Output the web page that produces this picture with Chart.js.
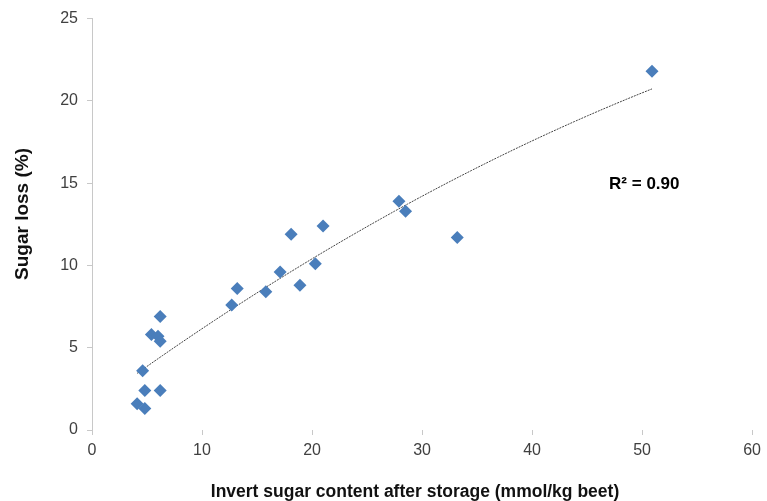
<!DOCTYPE html>
<html>
<head>
<meta charset="utf-8">
<script src="https://cdn.jsdelivr.net/npm/chart.js@4.4.1/dist/chart.umd.min.js"></script>
<style>
  html, body { margin: 0; padding: 0; background: #fff; }
  #wrap { width: 767px; height: 501px; }
</style>
</head>
<body>
<div id="wrap"><canvas id="scatter-chart" width="767" height="501"></canvas></div>
<script>
// invert sugar (mmol/kg beet) vs sugar loss (%)
const invertSugar = [50.9, 27.9, 28.5, 33.2, 21.0, 18.1, 20.3, 17.1, 18.9, 15.8, 13.2, 12.7, 6.2, 5.4, 6.0, 6.2, 4.6, 4.8, 6.2, 4.1, 4.8];
const sugarLoss = [21.8, 13.9, 13.3, 11.7, 12.4, 11.9, 10.1, 9.6, 8.8, 8.4, 8.6, 7.6, 6.9, 5.8, 5.7, 5.4, 3.6, 2.4, 2.4, 1.6, 1.3];
const xTicks = [0, 10, 20, 30, 40, 50, 60];
const yTicks = [0, 5, 10, 15, 20, 25];
const xTitle = 'Invert sugar content after storage (mmol/kg beet)';
const yTitle = 'Sugar loss (%)';
const r2Label = 'R² = 0.90';

const FONT = "'Liberation Sans', Arial, sans-serif";

// 2nd order polynomial trendline (least squares), like Excel
function polyFit(xs, ys) {
    const n = xs.length;
    let s1 = 0, s2 = 0, s3 = 0, s4 = 0, t0 = 0, t1 = 0, t2 = 0;
    for (let i = 0; i < n; i++) {
        const x = xs[i], y = ys[i];
        s1 += x; s2 += x * x; s3 += x * x * x; s4 += x * x * x * x;
        t0 += y; t1 += x * y; t2 += x * x * y;
    }
    // solve 3x3 normal equations (Cramer)
    const m = [[n, s1, s2], [s1, s2, s3], [s2, s3, s4]];
    const r = [t0, t1, t2];
    const det = a => a[0][0] * (a[1][1] * a[2][2] - a[1][2] * a[2][1])
        - a[0][1] * (a[1][0] * a[2][2] - a[1][2] * a[2][0])
        + a[0][2] * (a[1][0] * a[2][1] - a[1][1] * a[2][0]);
    const d = det(m);
    const col = k => m.map((row, i) => row.map((v, j) => (j === k ? r[i] : v)));
    return [det(col(0)) / d, det(col(1)) / d, det(col(2)) / d];
}

const coef = polyFit(invertSugar, sugarLoss);
const xMin = Math.min(...invertSugar);
const xMax = Math.max(...invertSugar);
const trendPoints = [];
for (let i = 0; i <= 40; i++) {
    const x = xMin + (xMax - xMin) * i / 40;
    trendPoints.push({ x: x, y: coef[0] + coef[1] * x + coef[2] * x * x });
}

// axis titles + R² text, placed a bit off-centre like the original
const labelsPlugin = {
    id: 'extraLabels',
    afterDraw(chart) {
        const { ctx, scales } = chart;
        ctx.save();
        ctx.fillStyle = '#111';
        ctx.textAlign = 'center';

        ctx.font = "bold 17.5px " + FONT;
        ctx.textBaseline = 'alphabetic';
        ctx.fillText(xTitle, 415, 497);

        ctx.save();
        ctx.font = "bold 19px " + FONT;
        ctx.translate(27.5, 214);
        ctx.rotate(-Math.PI / 2);
        ctx.fillText(yTitle, 0, 0);
        ctx.restore();

        ctx.font = "bold 17px " + FONT;
        ctx.fillStyle = '#000';
        ctx.textBaseline = 'middle';
        ctx.fillText(r2Label, scales.x.getPixelForValue(50.2), scales.y.getPixelForValue(14.9));
        ctx.restore();
    }
};

const ctx = document.getElementById('scatter-chart');

new Chart(ctx, {
    type: 'scatter',
    data: {
        datasets: [{
            label: 'Sugar loss',
            data: invertSugar.map((x, i) => ({ x: x, y: sugarLoss[i] })),
            pointStyle: 'rectRot',
            pointRadius: 6.5,
            pointHoverRadius: 6.5,
            backgroundColor: 'rgb(74, 126, 187)',
            borderColor: 'rgb(74, 126, 187)',
            borderWidth: 0,
            order: 1
        }, {
            type: 'line',
            label: 'Trend',
            data: trendPoints,
            borderColor: '#444',
            borderWidth: 1,
            borderDash: [2, 1],
            pointRadius: 0,
            fill: false,
            tension: 0,
            order: 2
        }]
    },
    options: {
        responsive: false,
        animation: false,
        layout: { padding: { top: 18, right: 14, bottom: 0, left: 0 } },
        plugins: {
            legend: { display: false },
            tooltip: { enabled: false }
        },
        scales: {
            x: {
                type: 'linear',
                min: 0,
                max: 60,
                afterFit(scale) { scale.height = 71; },
                afterBuildTicks(scale) { scale.ticks = xTicks.map(v => ({ value: v })); },
                border: { display: false },
                grid: { drawOnChartArea: false, tickLength: 5, color: '#c8c8c8' },
                ticks: { color: '#404040', padding: 6, font: { family: FONT, size: 16 } }
            },
            y: {
                type: 'linear',
                min: 0,
                max: 25,
                afterFit(scale) { scale.width = 92; },
                afterBuildTicks(scale) { scale.ticks = yTicks.map(v => ({ value: v })); },
                border: { display: true, color: '#c8c8c8' },
                grid: { drawOnChartArea: false, tickLength: 5, color: '#c8c8c8' },
                ticks: { color: '#404040', padding: 9, font: { family: FONT, size: 16 } }
            }
        }
    },
    plugins: [labelsPlugin]
});
</script>
</body>
</html>
